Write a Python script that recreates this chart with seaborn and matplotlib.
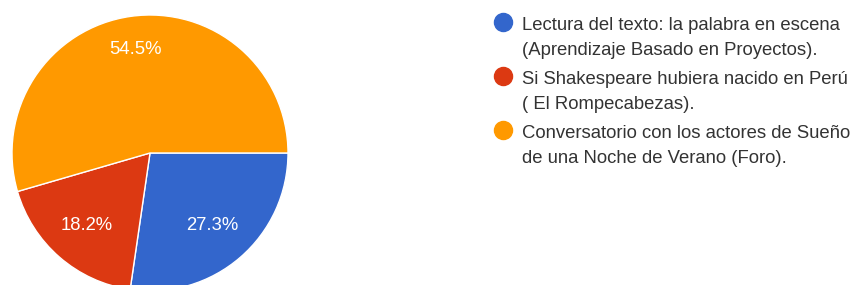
import matplotlib
matplotlib.use("Agg")
import numpy as np
import matplotlib.pyplot as plt
import seaborn as sns
from matplotlib.lines import Line2D

categories = [
    "Lectura del texto: la palabra en escena\n(Aprendizaje Basado en Proyectos).",
    "Si Shakespeare hubiera nacido en Perú\n( El Rompecabezas).",
    "Conversatorio con los actores de Sueño\nde una Noche de Verano (Foro).",
]
values = [27.3, 18.2, 54.5]
colors = ["#3366CC", "#DC3912", "#FF9900"]

sns.set_theme(style="white")
plt.rcParams["font.family"] = ["Liberation Sans", "DejaVu Sans"]

W, H = 855, 285
fig = plt.figure(figsize=(W / 100, H / 100), dpi=100)
fig.patch.set_facecolor("white")

cx, cy, r = 150, 153, 138
ax = fig.add_axes([(cx - r) / W, (H - cy - r) / H, 2 * r / W, 2 * r / H])
wedges, texts, autotexts = ax.pie(
    values,
    colors=sns.color_palette(colors),
    startangle=0,
    counterclock=False,
    autopct="%1.1f%%",
    pctdistance=0.695,
    wedgeprops=dict(edgecolor="white", linewidth=1),
    textprops=dict(color="white", fontsize=13.3),
)
# largest slice label sits a little further out
for w, t, v in zip(wedges, autotexts, values):
    if v == max(values):
        th = np.deg2rad((w.theta1 + w.theta2) / 2)
        t.set_position((0.755 * np.cos(th), 0.755 * np.sin(th)))
ax.set_xlim(-1, 1)
ax.set_ylim(-1, 1)
ax.set_aspect("equal")
ax.axis("off")

# legend (manual layout: marker aligned with first text line)
lx, tx, base0, pitch, lh = 503, 522, 29, 54, 26
for i, (lab, col) in enumerate(zip(categories, colors)):
    yb = base0 + i * pitch          # baseline of first line
    fig.add_artist(Line2D([lx / W], [1 - (yb - 7) / H], marker="o", markersize=13,
                          color=col, linestyle="none", transform=fig.transFigure))
    # va='baseline' anchors the last line's baseline
    fig.text(tx / W, 1 - (yb + lh) / H, lab, ha="left", va="baseline", fontsize=13.3,
             color="#333333", linespacing=1.6)

fig.savefig("out.png", dpi=100, facecolor="white")
